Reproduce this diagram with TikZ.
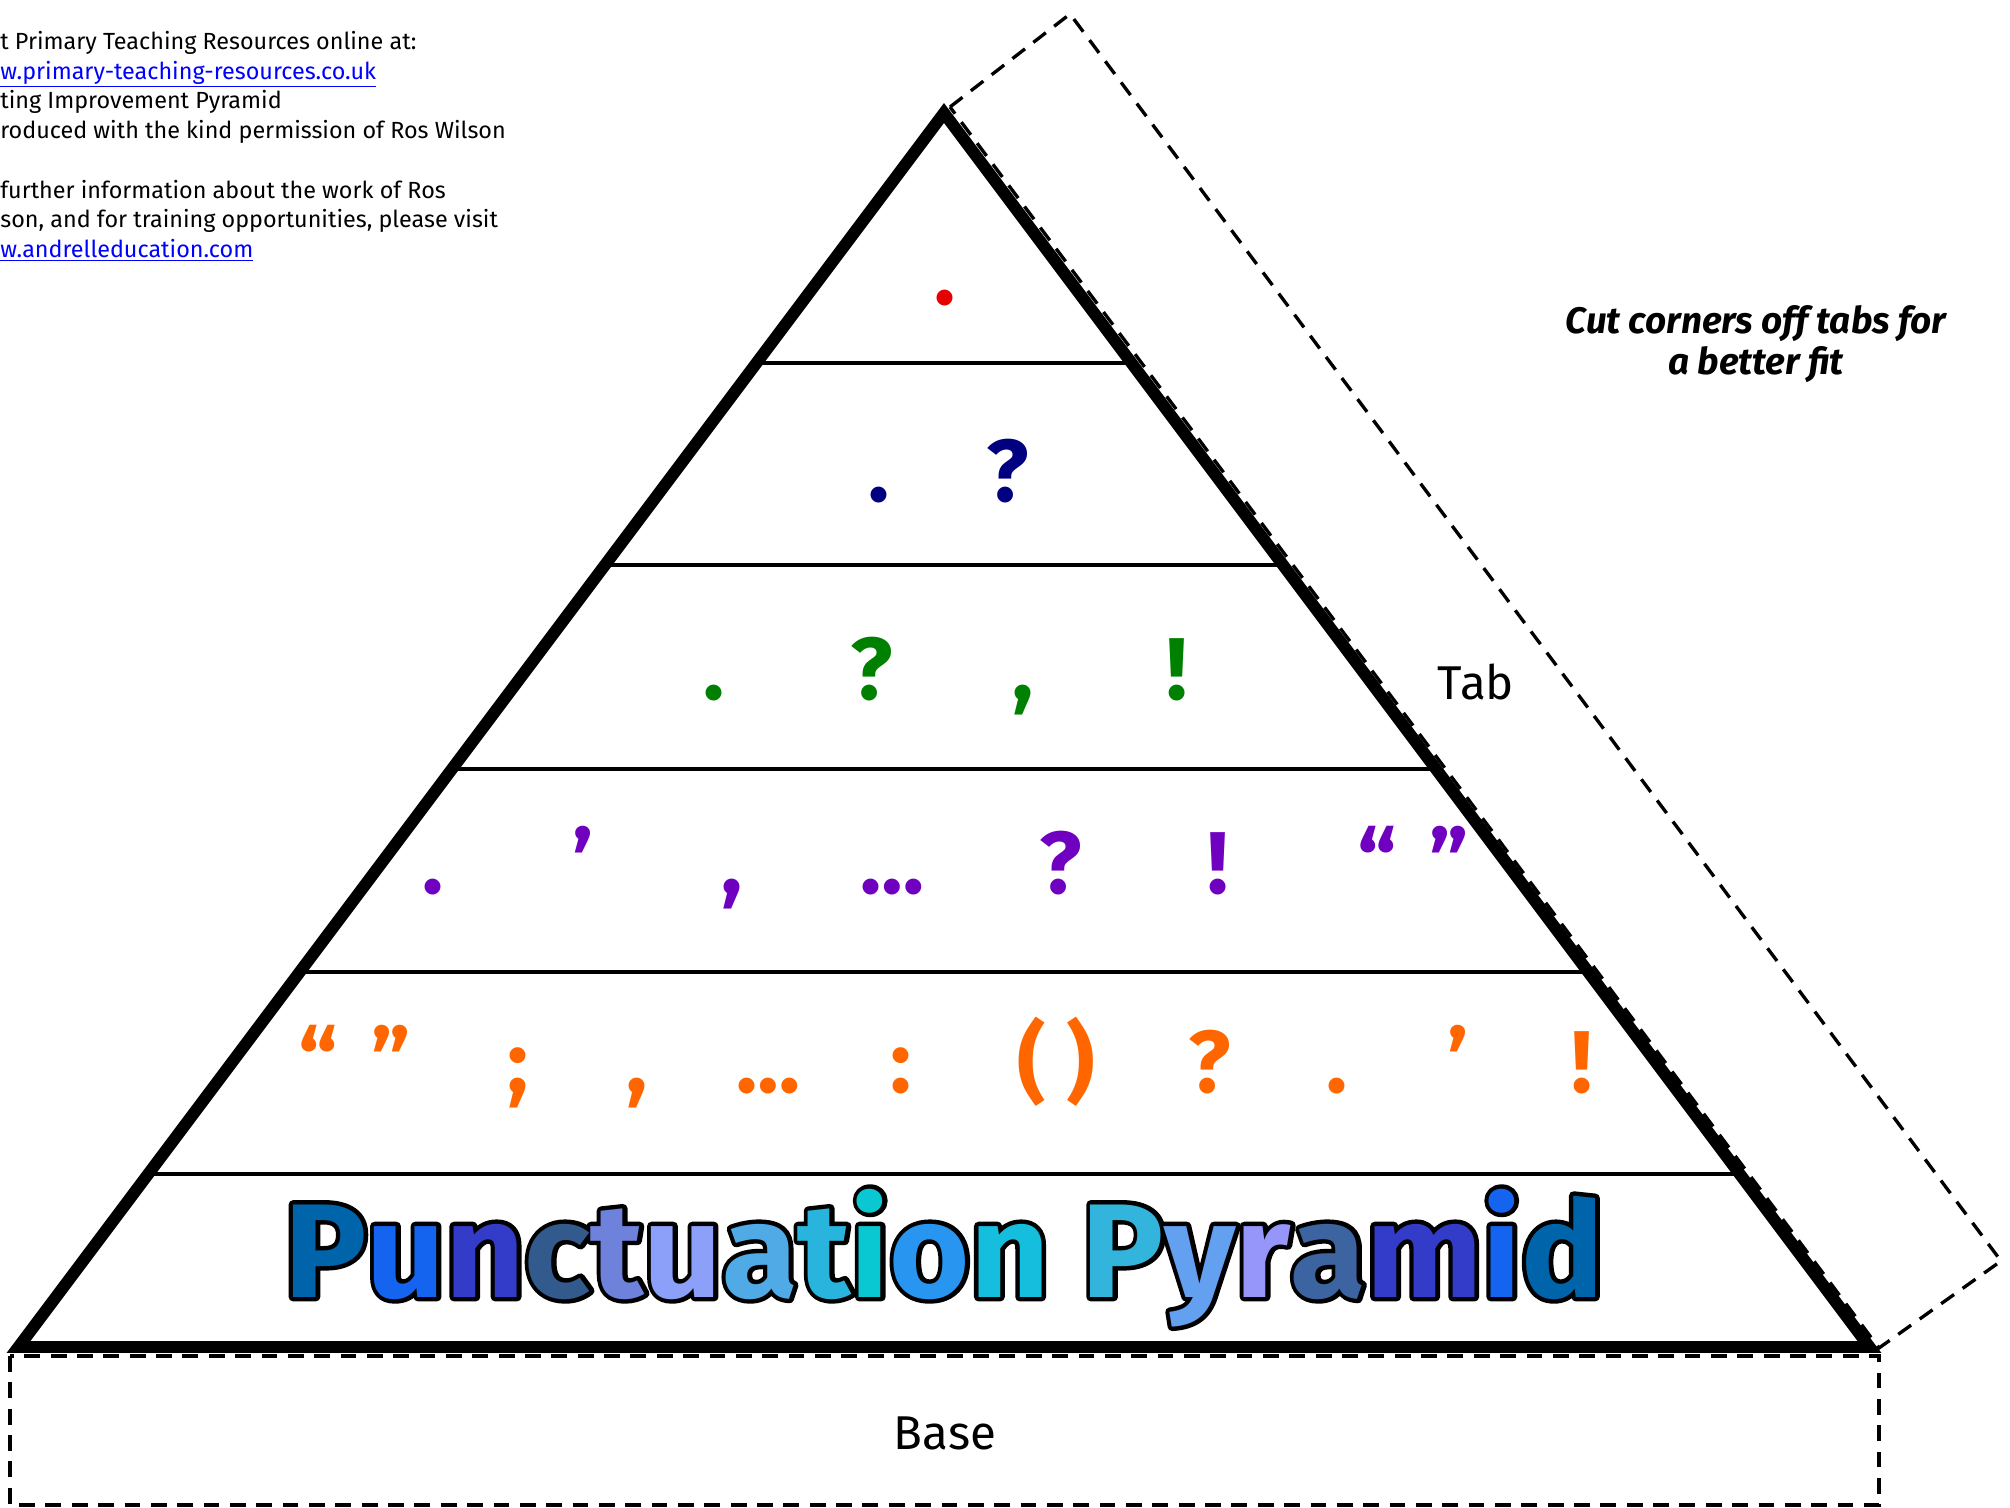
\documentclass[tikz,border=0pt]{standalone}
\usepackage{fontspec}
\setmainfont{Fira Sans}
\usetikzlibrary{positioning}

\definecolor{markred}{RGB}{230,0,0}
\definecolor{marknavy}{RGB}{0,0,128}
\definecolor{markgreen}{RGB}{0,128,0}
\definecolor{markpurple}{RGB}{112,0,192}
\definecolor{markorange}{RGB}{255,102,0}
\definecolor{linkblue}{RGB}{0,0,255}

% colours of the title letters
\definecolor{ttlA}{RGB}{0,100,170}
\definecolor{ttlB}{RGB}{20,100,240}
\definecolor{ttlC}{RGB}{50,60,200}
\definecolor{ttlD}{RGB}{50,90,140}
\definecolor{ttlE}{RGB}{110,130,220}
\definecolor{ttlF}{RGB}{140,160,250}
\definecolor{ttlG}{RGB}{80,170,230}
\definecolor{ttlH}{RGB}{40,180,220}
\definecolor{ttlI}{RGB}{10,200,210}
\definecolor{ttlJ}{RGB}{40,150,240}
\definecolor{ttlK}{RGB}{20,190,220}
\definecolor{ttlL}{RGB}{50,180,220}
\definecolor{ttlM}{RGB}{100,160,240}
\definecolor{ttlN}{RGB}{150,150,250}
\definecolor{ttlO}{RGB}{60,100,160}

\newif\ifttloutline
\newcommand\ttlchar[2]{{\ifttloutline\color{black}\else\color{#1}\fi#2}}
\newcommand\ttlword{\ttlchar{ttlA}{P}\ttlchar{ttlB}{u}\ttlchar{ttlC}{n}\ttlchar{ttlD}{c}%
  \ttlchar{ttlE}{t}\ttlchar{ttlF}{u}\ttlchar{ttlG}{a}\ttlchar{ttlH}{t}\ttlchar{ttlI}{i}%
  \ttlchar{ttlJ}{o}\ttlchar{ttlK}{n} \ttlchar{ttlL}{P}\ttlchar{ttlM}{y}\ttlchar{ttlN}{r}%
  \ttlchar{ttlO}{a}\ttlchar{ttlC}{m}\ttlchar{ttlB}{i}\ttlchar{ttlA}{d}}
% stroked (outlined) text for the black rim
\newcommand\ttlrim[1]{\special{pdf:literal direct 2 Tr 1 j 5 w}#1\special{pdf:literal direct 0 Tr 1 w}}

\begin{document}
\begin{tikzpicture}[x=0.02cm, y=-0.02cm,
    punct/.style={font=\fontsize{50}{50}\selectfont\bfseries, anchor=base, inner sep=0pt},
    cutline/.style={line width=1.9pt, dash pattern=on 9pt off 6pt},
    tablabel/.style={font=\fontsize{27}{30}\selectfont, anchor=base, inner sep=0pt},
    ttlfont/.style={font=\fontsize{76}{80}\selectfont\bfseries, anchor=base, inner sep=0pt, xscale=1.03}]
  \useasboundingbox (0,0) rectangle (2010,1507);

  % notes, top left
  \node[anchor=north west, inner sep=0pt, align=left,
        font=\fontsize{13.3}{16.9}\selectfont] (notes) at (0,31)
    {t Primary Teaching Resources online at:\\
     \textcolor{linkblue}{\underline{w.primary-teaching-resources.co.uk}}\\
     ting Improvement Pyramid\\
     roduced with the kind permission of Ros Wilson\\[\baselineskip]
     further information about the work of Ros\\
     son, and for training opportunities, please visit\\
     \textcolor{linkblue}{\underline{w.andrelleducation.com}}};

  \node[align=center, font=\fontsize{21}{23.3}\selectfont\bfseries\itshape] (hint)
    at (1756,344) {Cut corners off tabs for\\a better fit};

  % tab and base
  \draw[cutline] (950,107) -- (1070,14) -- (2001,1261) -- (1879,1348) -- cycle;
  \draw[cutline] (10,1356) rectangle (1879,1505);
  \node[tablabel] (tab) at (1476,699) {Tab};
  \node[tablabel] (base) at (945,1449) {Base};

  % pyramid
  \coordinate (apex) at (944,113);
  \coordinate (bl) at (18.5,1347);
  \coordinate (br) at (1869.5,1347);
  \foreach \y in {363,565,769,972,1174}
    \draw[line width=2.3pt] ({944-0.75*(\y-113)},\y) -- ({944+0.75*(\y-113)},\y);
  \draw[line width=6.8pt, line join=miter] (apex) -- (br) -- (bl) -- cycle;

  % punctuation rows
  \node[punct, text=markred] (r1) at (945,304) {.};
  \foreach \x/\m [count=\i] in {879/., 1008/?}
    \node[punct, text=marknavy] (r2-\i) at (\x,501) {\m};
  \foreach \x/\m [count=\i] in {714/., 872/?, 1023/{,}, 1177/!}
    \node[punct, text=markgreen] (r3-\i) at (\x,699) {\m};
  \foreach \x/\m [count=\i] in {433/., 583/’, 732/{,}, 892/…, 1061/?, 1218/!, 1377/“, 1449/”}
    \node[punct, text=markpurple] (r4-\i) at (\x,893) {\m};
  \foreach \x/\m [count=\i] in {318/“, 391/”, 518/;, 637/{,}, 768/…, 901/:, 1056/( ), 1210/?, 1337/., 1458/’, 1582/!}
    \node[punct, text=markorange] (r5-\i) at (\x,1092) {\m};

  % title with black outline
  \node[ttlfont, text=black] (title-rim) at (944,1297) {\ttloutlinetrue\ttlrim{\ttlword}};
  \node[ttlfont] (title) at (944,1297) {\ttlword};
\end{tikzpicture}
\end{document}
